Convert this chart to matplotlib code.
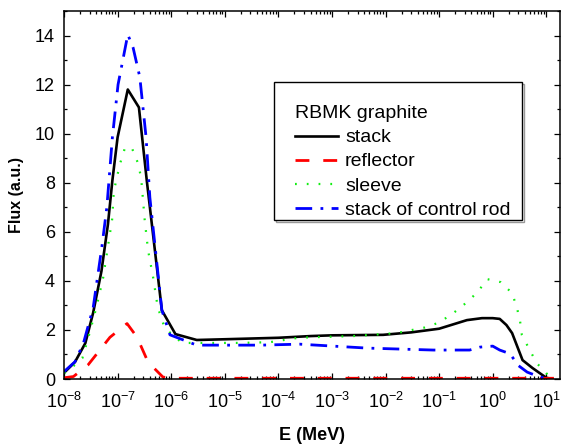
import numpy as np
import matplotlib
matplotlib.use("Agg")
import matplotlib.pyplot as plt
from matplotlib.ticker import FixedLocator, MultipleLocator, NullFormatter, LogFormatterSciNotation
from matplotlib.patches import Rectangle

plt.rcParams['font.family'] = ['Liberation Sans', 'DejaVu Sans']
plt.rcParams['mathtext.fontset'] = 'custom'
plt.rcParams['mathtext.rm'] = 'Liberation Sans'
plt.rcParams['mathtext.it'] = 'Liberation Sans:italic'
plt.rcParams['mathtext.bf'] = 'Liberation Sans:bold'

# ---- data (E in MeV, flux in a.u.) ----
stack_E = [1e-8, 1.6e-8, 2.5e-8, 3.5e-8, 5e-8, 6.6e-8, 8e-8, 1e-7, 1.55e-7, 2.5e-7,
           3.5e-7, 6.7e-7, 1.2e-6, 3e-6, 1e-5, 1e-4, 4e-4, 1e-3, 9e-3, 3e-2,
           1e-1, 3.3e-1, 6.3e-1, 1.0, 1.35, 1.8, 2.3, 3.6, 5.5, 10, 13]
stack_F = [0.25, 0.69, 1.46, 2.7, 4.4, 6.3, 8.1, 9.85, 11.8, 11.07,
           8.1, 2.8, 1.83, 1.59, 1.62, 1.68, 1.75, 1.78, 1.8, 1.9,
           2.05, 2.4, 2.48, 2.48, 2.45, 2.2, 1.87, 0.77, 0.45, 0.05, 0.0]

refl_E = [1e-8, 1.5e-8, 2.8e-8, 7.2e-8, 1.5e-7, 2.3e-7, 3.7e-7, 7e-7, 1e-6,
          1e-5, 1e-3, 1e-1, 1.0, 10, 15]
refl_F = [0.05, 0.1, 0.57, 1.7, 2.26, 1.71, 0.69, 0.08, 0.03,
          0.03, 0.03, 0.03, 0.03, 0.03, 0.03]

sleeve_E = [1e-8, 1.15e-8, 2.2e-8, 3e-8, 4.1e-8, 5.4e-8, 6.6e-8, 7.9e-8, 8.5e-8, 9.8e-8,
            1.12e-7, 1.38e-7, 1.86e-7, 2.4e-7, 2.75e-7, 3.2e-7, 3.7e-7, 4.6e-7, 5.6e-7, 7.6e-7,
            1.6e-6, 5e-6, 1.9e-5, 6.9e-5, 2.2e-4, 3.9e-4, 2.5e-3, 1.6e-2, 5.4e-2, 1e-1,
            1.9e-1, 3.3e-1, 5.2e-1, 7.9e-1, 1.4, 2.3, 2.8, 3.2, 3.5, 6.6, 11.7, 14]
sleeve_F = [0.25, 0.3, 0.85, 1.87, 3.0, 4.15, 5.4, 6.5, 7.65, 8.26,
            8.8, 9.44, 9.4, 8.8, 8.2, 6.5, 5.25, 4.15, 2.93, 2.07,
            1.47, 1.47, 1.47, 1.5, 1.67, 1.7, 1.75, 1.87, 2.1, 2.3,
            2.71, 3.13, 3.54, 4.07, 3.95, 3.5, 2.93, 2.44, 1.79, 0.65, 0.08, 0.0]

ctrl_E = [1e-8, 1.6e-8, 2.3e-8, 3.5e-8, 5.1e-8, 6.3e-8, 8e-8, 1.02e-7, 1.55e-7, 1.95e-7,
          2.6e-7, 3.4e-7, 4e-7, 6.7e-7, 9.5e-7, 3e-6, 4.6e-5, 2.5e-4, 4.5e-3, 7.8e-2,
          3.7e-1, 5.8e-1, 1.0, 1.35, 2.1, 3.0, 4.4, 7.6, 12]
ctrl_F = [0.3, 0.7, 1.45, 2.9, 5.4, 7.0, 9.85, 12.0, 14.04, 13.5,
          12.3, 9.85, 7.4, 2.8, 1.8, 1.38, 1.38, 1.42, 1.26, 1.18,
          1.18, 1.3, 1.34, 1.18, 1.03, 0.55, 0.28, 0.08, 0.0]

x_decades = list(range(-8, 2))   # major ticks 10^-8 ... 10^1
legend_title = "RBMK graphite"
labels = ["stack", "reflector", "sleeve", "stack of control rod"]
x_label = "E (MeV)"
y_label = "Flux (a.u.)"

W, H = 562, 447
fig = plt.figure(figsize=(W / 100, H / 100), dpi=100)
ax = fig.add_axes([64 / W, 68 / H, 496 / W, 368 / H])

l1, = ax.plot(stack_E, stack_F, color='black', lw=1.9, ls='-')
l2, = ax.plot(refl_E, refl_F, color='#ff0000', lw=2.0, ls=(0, (5, 5)))
l3, = ax.plot(sleeve_E, sleeve_F, color='#11ee11', lw=1.6, ls=(0, (0.8, 4.5)))
l4, = ax.plot(ctrl_E, ctrl_F, color='#0000ff', lw=2.0, ls=(0, (6, 3, 1, 3)))

ax.set_xscale('log')
ax.set_xlim(1e-8, 18)
ax.set_ylim(0, 15)
major = [10.0 ** k for k in x_decades]
minor = [m * 10.0 ** k for k in x_decades for m in range(2, 10) if m * 10.0 ** k < 18]
ax.xaxis.set_major_locator(FixedLocator(major))
ax.xaxis.set_major_formatter(LogFormatterSciNotation())
ax.xaxis.set_minor_locator(FixedLocator(minor))
ax.xaxis.set_minor_formatter(NullFormatter())
ax.yaxis.set_major_locator(MultipleLocator(2))
ax.yaxis.set_minor_locator(MultipleLocator(1))

ax.tick_params(which='both', direction='in', top=True, right=True, labelsize=13,
               width=0.9, color='black')
ax.tick_params(which='major', length=4.5)
ax.tick_params(which='minor', length=2.5)
ax.tick_params(axis='x', which='major', pad=9)
ax.tick_params(axis='y', which='major', pad=6.5)
for sp in ax.spines.values():
    sp.set_linewidth(1.1)

ax.set_xlabel(x_label, fontsize=13, fontweight='bold', labelpad=11)
ax.set_ylabel(y_label, fontsize=11.5, fontweight='bold', labelpad=8)

# legend box with a faint shadow (drawn inside the axes so it stays below the legend text)
ax.add_patch(Rectangle((276 / W, 1 - 222 / H), (522 - 274) / W, (220 - 82) / H,
                       transform=fig.transFigure, fill=False, edgecolor='#999999',
                       lw=1.0, zorder=4, clip_on=False))
ax.add_patch(Rectangle((274 / W, 1 - 220 / H), (522 - 274) / W, (220 - 82) / H,
                       transform=fig.transFigure, facecolor='white', edgecolor='black',
                       lw=1.0, zorder=5, clip_on=False))
leg = ax.legend([l1, l2, l3, l4], labels, title=legend_title, title_fontsize=14,
                fontsize=14, frameon=False, loc='upper left',
                bbox_to_anchor=(276 / W, 1 - 86 / H), bbox_transform=fig.transFigure,
                handlelength=2.2, handletextpad=0.35, labelspacing=0.33,
                borderpad=0.5, alignment='left')
leg.set_zorder(6)

fig.savefig("out.png", dpi=100)
